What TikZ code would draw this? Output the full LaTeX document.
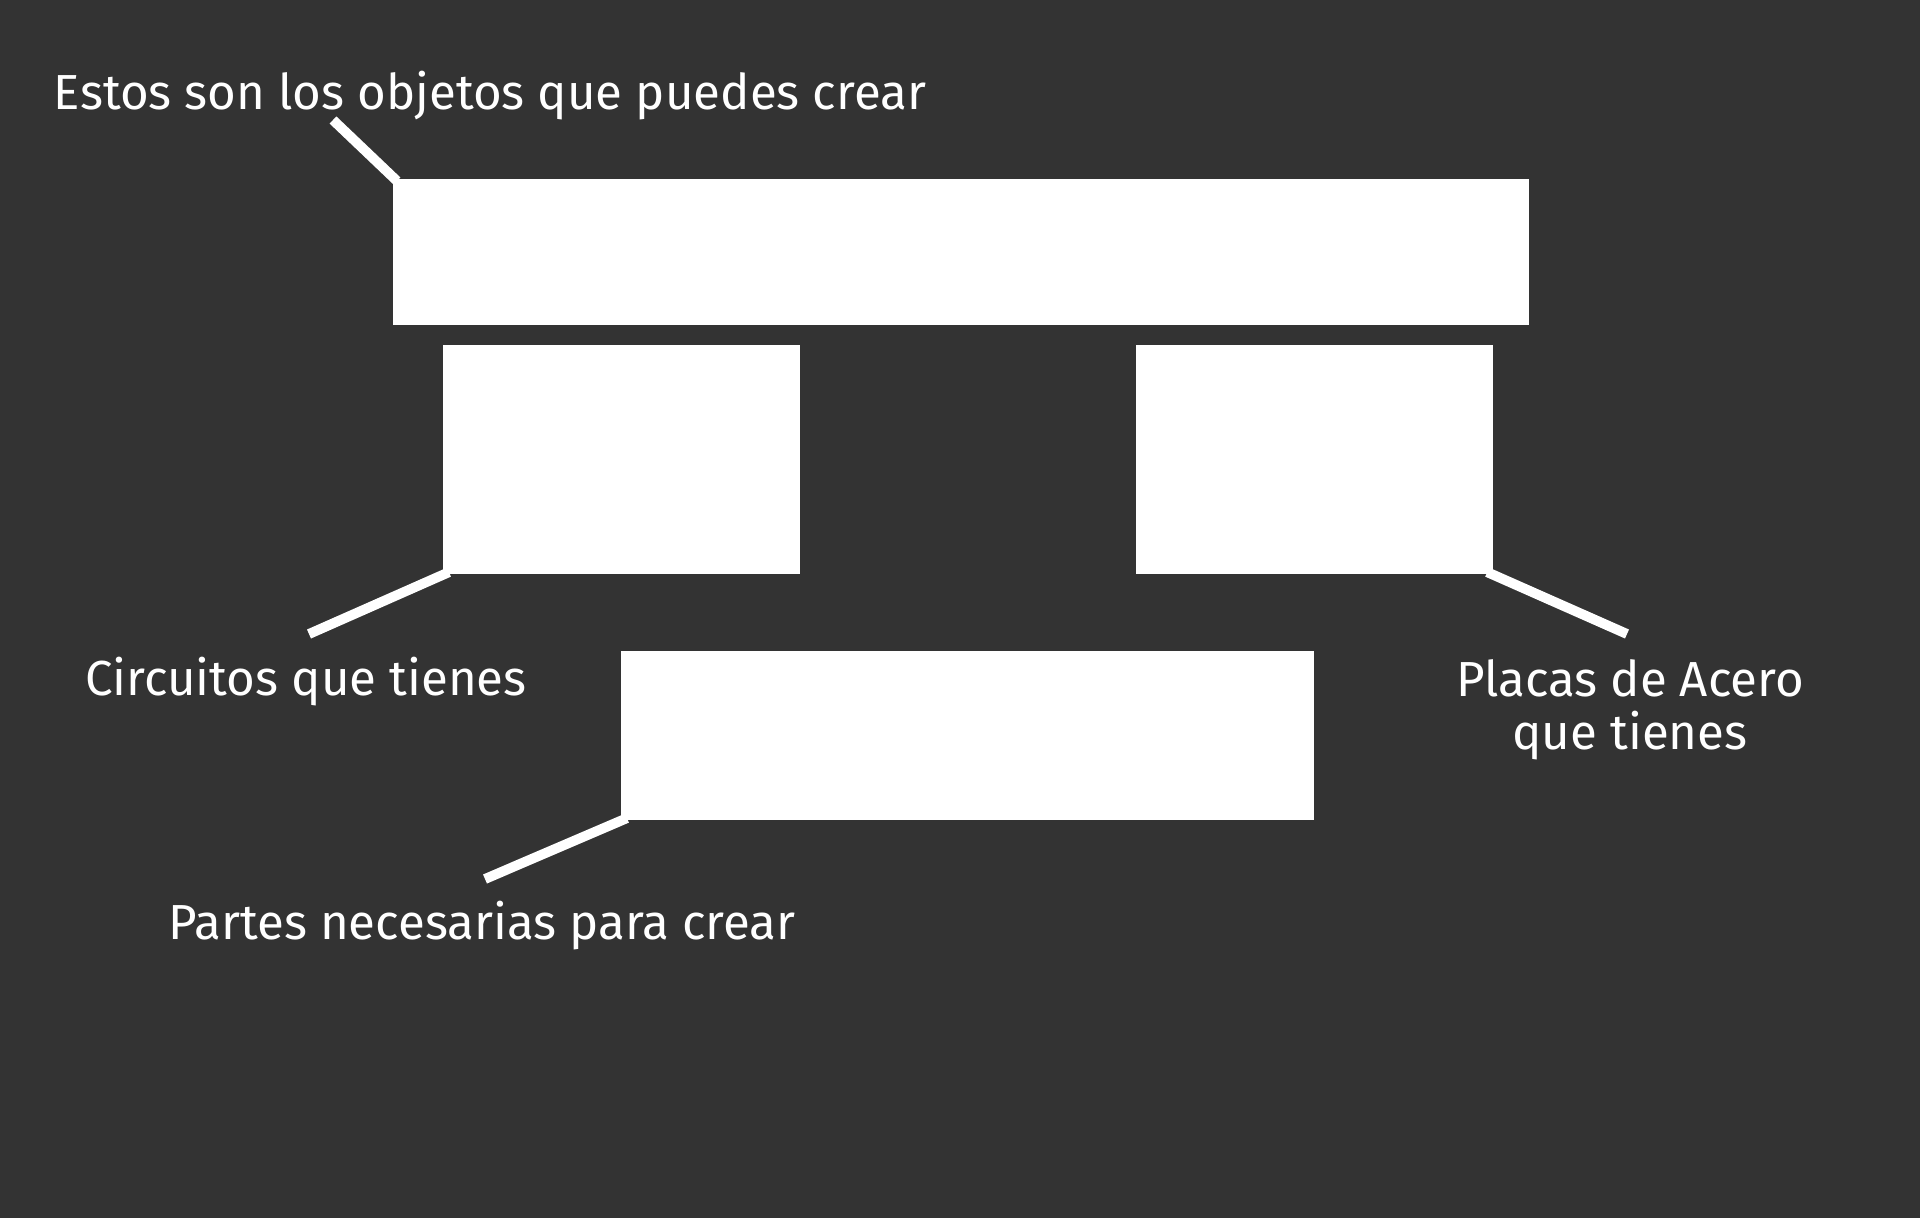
\documentclass[tikz,border=0pt]{standalone}
\usepackage{fontspec}
\setmainfont{Fira Sans}
\usetikzlibrary{positioning}
\definecolor{fondo}{HTML}{333333}
\tikzset{
  % --- cajas
  caja/.style     = {rectangle, fill=white, inner sep=0pt, outer sep=0pt, anchor=north west},
  % --- textos y guias
  etiqueta/.style = {text=white, font=\fontsize{14}{14.8}\selectfont, align=center, inner sep=0pt},
  guia/.style     = {draw=white, line width=2.8pt},
}

\begin{document}
\begin{tikzpicture}[x=0.01cm,y=-0.01cm]
  \fill[fondo] (0,0) rectangle (1920,1218);
  \node[caja, minimum width=11.35cm, minimum height=1.455cm] (objetos)  at (393,179) {};
  \node[caja, minimum width=3.57cm,  minimum height=2.29cm]  (circuitos) at (443,345) {};
  \node[caja, minimum width=3.57cm,  minimum height=2.29cm]  (placas)    at (1136,345) {};
  \node[caja, minimum width=6.93cm,  minimum height=1.69cm]  (partes)    at (621,651) {};
  \node[etiqueta, anchor=base] (tobjetos)   at (490,109)  {Estos son los objetos que puedes crear};
  \node[etiqueta, anchor=base] (tcircuitos) at (306,695)  {Circuitos que tienes};
  \node[etiqueta, anchor=base] (tplacas)    at (1630,749) {Placas de Acero\\que tienes};
  \node[etiqueta, anchor=base] (tpartes)    at (482,939)  {Partes necesarias para crear};
  \coordinate (g1) at (333,120);
  \coordinate (g2) at (309,634);
  \coordinate (g3) at (1627,634);
  \coordinate (g4) at (485,879);
  \draw[guia] ([shift={(4,2)}]objetos.north west) -- (g1);
  \draw[guia] ([shift={(6,-2)}]circuitos.south west) -- (g2);
  \draw[guia] ([shift={(-6,-2)}]placas.south east) -- (g3);
  \draw[guia] ([shift={(6,-2)}]partes.south west) -- (g4);
\end{tikzpicture}
\end{document}
